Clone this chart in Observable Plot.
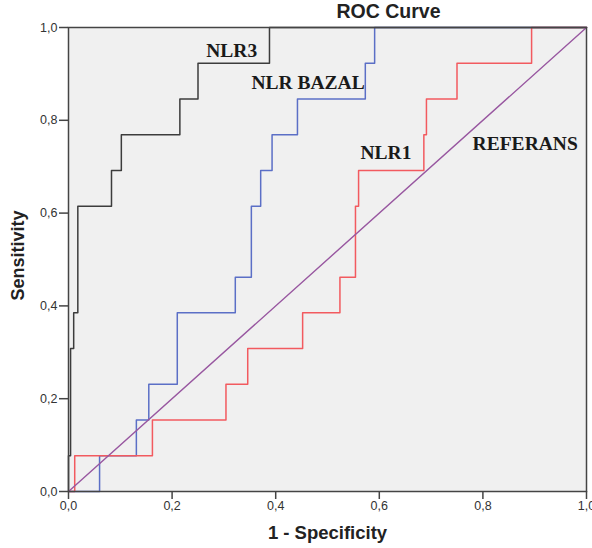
<!DOCTYPE html>
<html>
<head>
<meta charset="utf-8">
<script src="https://cdn.jsdelivr.net/npm/d3@7"></script>
<script src="https://cdn.jsdelivr.net/npm/@observablehq/plot@0.6"></script>
<style>
  html, body { margin: 0; padding: 0; background: #ffffff; }
  #chart { width: 592px; height: 548px; overflow: hidden; }
</style>
</head>
<body>
<div id="chart"></div>
<script>
// ---- data ----
const title = "ROC Curve";
const xLabel = "1 - Specificity";
const yLabel = "Sensitivity";
const tickValues = [0, 0.2, 0.4, 0.6, 0.8, 1.0];

// NLR3 (black)
const nlr3Fpr  = [0, 0, 0.004, 0.010, 0.018, 0.083, 0.102, 0.215, 0.250, 0.388, 1];
const nlr3Sens = [0, 0.077, 0.308, 0.385, 0.615, 0.692, 0.769, 0.846, 0.923, 1, 1];

// NLR BAZAL (blue)
const bazalFpr  = [0, 0.060, 0.131, 0.155, 0.210, 0.322, 0.353, 0.371, 0.393, 0.442, 0.573, 0.591, 1];
const bazalSens = [0, 0.077, 0.154, 0.231, 0.385, 0.462, 0.615, 0.692, 0.769, 0.846, 0.923, 1, 1];

// NLR1 (red)
const nlr1Fpr  = [0, 0.012, 0.162, 0.304, 0.346, 0.452, 0.524, 0.554, 0.560, 0.686, 0.691, 0.750, 0.894, 1];
const nlr1Sens = [0, 0.077, 0.154, 0.231, 0.308, 0.385, 0.462, 0.615, 0.692, 0.769, 0.846, 0.923, 1, 1];

// REFERANS (diagonal)
const refFpr  = [0, 1];
const refSens = [0, 1];

// curve labels (text and anchor position in data units)
const labelNames = ["NLR3", "NLR BAZAL", "NLR1", "REFERANS"];
const labelX = [0.315, 0.4624, 0.6129, 0.8816];
const labelY = [0.950, 0.8815, 0.729, 0.7485];

// ---- build tables ----
const toRows = (fx, sy) => fx.map((f, i) => ({fpr: f, sens: sy[i]}));
const nlr3 = toRows(nlr3Fpr, nlr3Sens);
const bazal = toRows(bazalFpr, bazalSens);
const nlr1 = toRows(nlr1Fpr, nlr1Sens);
const ref = toRows(refFpr, refSens);
const labels = labelNames.map((n, i) => ({name: n, x: labelX[i], y: labelY[i]}));

const fmt = d => d.toFixed(1).replace(".", ",");

const chart = Plot.plot({
  width: 592,
  height: 548,
  marginLeft: 68,
  marginRight: 6,
  marginTop: 27,
  marginBottom: 57,
  style: {fontFamily: "'Liberation Sans', Arial, sans-serif", fontSize: "12.5px", color: "#333", background: "#ffffff"},
  x: {domain: [0, 1]},
  y: {domain: [0, 1]},
  marks: [
    Plot.frame({fill: "#f0f0f0", stroke: null}),
    Plot.line(bazal, {x: "fpr", y: "sens", curve: "step-after", stroke: "#5b6fc6", strokeWidth: 1.5}),
    Plot.line(nlr1, {x: "fpr", y: "sens", curve: "step-after", stroke: "#f25a5f", strokeWidth: 1.5}),
    Plot.line(nlr3, {x: "fpr", y: "sens", curve: "step-after", stroke: "#3c3c3c", strokeWidth: 1.5}),
    Plot.line(ref, {x: "fpr", y: "sens", stroke: "#9857a0", strokeWidth: 1.4}),
    Plot.frame({stroke: "#444", strokeWidth: 1.5}),
    Plot.axisX({ticks: tickValues, tickFormat: fmt, tickSize: 8, tickPadding: 2, label: null, stroke: "#444", strokeWidth: 1.5, fill: "#333"}),
    Plot.axisY({ticks: tickValues, tickFormat: fmt, tickSize: 9, tickPadding: 2, label: null, stroke: "#444", strokeWidth: 1.5, fill: "#333"}),
    Plot.text(labels, {x: "x", y: "y", text: "name", fontFamily: "'Liberation Serif', 'Times New Roman', serif", fontWeight: "bold", fontSize: 19.5, fill: "#1a1a1a", textAnchor: "middle", lineAnchor: "middle"}),
    Plot.text([xLabel], {frameAnchor: "bottom", dy: 42, text: d => d, fontWeight: "bold", fontSize: 18.5, fill: "#222", textAnchor: "middle", lineAnchor: "middle"}),
    Plot.text([yLabel], {frameAnchor: "left", dx: -50, dy: -4, rotate: -90, text: d => d, fontWeight: "bold", fontSize: 18, fill: "#222", textAnchor: "middle", lineAnchor: "middle"}),
    Plot.text([title], {frameAnchor: "top", dx: 61, dy: -16, text: d => d, fontWeight: "bold", fontSize: 19.5, fill: "#222", textAnchor: "middle", lineAnchor: "middle"})
  ]
});
document.getElementById("chart").appendChild(chart);
</script>
</body>
</html>
